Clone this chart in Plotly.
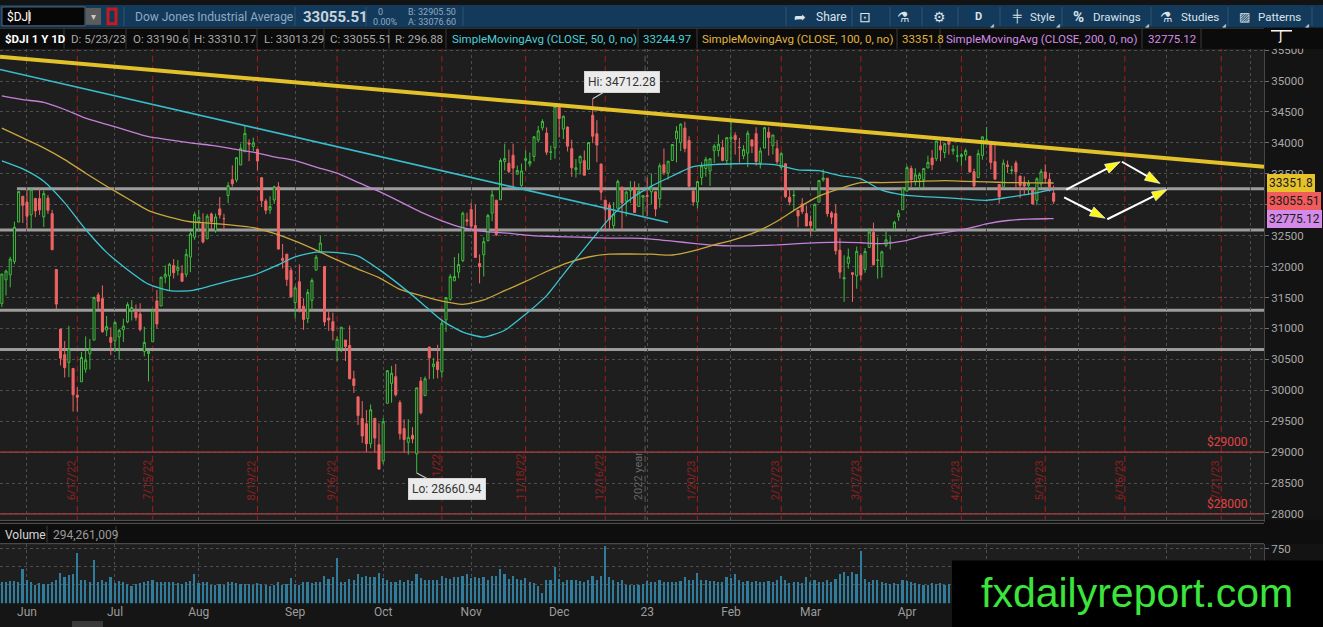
import pandas as pd
import plotly.graph_objects as go

W, H = 1323, 627
FONT = 'Roboto, "Open Sans", sans-serif'

# ---- data: $DJI daily bars 5/23/22 .. 5/23/23 (one value per trading day) ----
holidays = ['2022-05-30', '2022-06-20', '2022-07-04', '2022-09-05', '2022-11-24', '2022-12-26',
            '2023-01-02', '2023-01-16', '2023-02-20', '2023-04-07', '2023-05-29', '2023-06-19',
            '2023-07-04']

opens = [
    31401, 31786, 31865, 32082, 32720, 33137,
    33043, 32838, 33100, 33100, 32804, 33108, 32856, 31952, 30989, 30576, 30450, 30353, 29919,
    30137, 30340, 30589, 30810, 31541, 31481, 30972, 30856,
    30799, 30863, 30980, 31106, 31291, 31267, 31233, 30628, 30595, 30784, 31445, 31363, 31827, 31852,
    32017, 31938, 31889, 31874, 32154, 32475,
    32731, 32694, 32448, 32850, 32586, 32933, 32775, 33149, 33404, 33400, 33643, 33857, 33997, 33941,
    33897, 33438, 33061, 32914, 33077, 33291, 32134, 32201, 31941,
    31417, 31754, 31360, 31159, 31453, 31942, 32224, 32000, 31168, 31109, 30682, 30681, 30812, 30724,
    30184, 29893, 29544, 29459, 29137, 29546, 29120,
    28855, 29789, 30111, 30220, 29800, 29380, 29158, 29272, 28972, 30148, 29913, 30700, 30381, 30460,
    30299, 31138, 31470, 31769, 31910, 32098, 32756,
    32922, 32663, 32049, 32190, 32418, 32864, 33074, 33080, 33700, 33672, 33800, 33495, 33313, 33717,
    33658, 33780, 34047, 34245, 34159, 33849, 33917,
    34581, 34224, 34255, 33907, 33566, 33680, 33713, 33575, 34446, 34147, 33659, 33073, 32994, 32664,
    32942, 33285, 33059, 33225, 33264, 32972, 33121,
    33149, 33209, 33211, 33095, 33647, 33509, 33716, 34065, 34004, 34240, 34040, 33223, 33044, 33439,
    33586, 33544, 33874, 33876, 33924, 33716,
    34065, 34121, 33929, 33792, 33834, 34047, 34149, 33675, 33917, 34172, 33953, 33907, 33602, 33663,
    33122, 33145, 32910, 33013, 32856,
    32727, 32577, 33041, 33404, 33429, 32868, 32856, 32266, 31801, 32053, 31900, 31851, 32180, 31954,
    32309, 32555, 32097, 32001, 32343, 32385, 32608, 32804, 32920,
    33221, 33585, 33379, 33419, 33406, 33594, 33756, 33745, 33952, 33844, 34082, 33869, 33786, 33780,
    33805, 33784, 33535, 33440, 33797,
    34042, 33990, 33697, 33328, 33287, 33643, 33552, 33675, 33464, 33365, 33312, 33248, 33073, 33335,
    33529, 33411, 33190.6,
]
highs = [
    31880, 31949, 32159, 32726, 33213, 33137,
    33245, 33248, 33112, 33272, 33230, 33158, 32919, 31952, 30989, 30796, 31042, 30353, 30047,
    30620, 30870, 30829, 31514, 31580, 31695, 31202, 31017,
    31115, 30994, 31156, 31422, 31457, 31386, 31407, 31027, 30644, 31316, 31621, 31838, 32019, 32060,
    32122, 32108, 32022, 32284, 32575, 32886,
    32919, 32861, 32850, 32875, 32857, 33125, 32853, 33365, 33636, 33762, 33990, 34281, 34058, 34086,
    33897, 33438, 33096, 33136, 33307, 33365, 32367, 32204, 31989,
    31692, 32035, 31487, 31634, 31811, 32187, 32505, 32010, 31304, 31255, 30869, 31022, 30812, 31047,
    30315, 29893, 29825, 29679, 29770, 29546, 29466,
    29552, 30317, 30395, 30425, 29839, 29531, 29531, 29403, 30039, 30214, 30223, 30700, 30524, 30735,
    31119, 31503, 31878, 32155, 32214, 32889, 32871,
    33038, 32997, 32198, 32475, 32851, 33257, 33074, 33751, 33987, 33892, 33988, 33634, 33665, 33879,
    33844, 34112, 34275, 34381, 34250, 33955, 34590,
    34595, 34444, 34270, 34051, 33739, 33799, 33877, 34010, 34712.28, 34367, 33659, 33073, 33037, 33045,
    33407, 33285, 33226, 33384, 33379, 33344, 33148,
    33439, 33506, 33211, 33671, 33910, 33704, 33977, 34270, 34317, 34342, 34109, 33232, 33376, 33687,
    33775, 33745, 33978, 34135, 34049, 34086,
    34334, 34170, 34081, 33964, 34200, 34062, 34252, 33926, 34259, 34253, 34128, 34044, 33852, 33663,
    33240, 33252, 32910, 33106, 32985,
    32826, 33022, 33391, 33572, 33430, 32896, 33007, 32460, 32182, 32290, 31900, 32322, 32218, 32300,
    32621, 32710, 32475, 32259, 32600, 32492, 32740, 32916, 33275,
    33633, 33633, 33589, 33521, 33587, 33792, 33887, 34030, 34082, 33989, 34089, 33965, 33954, 33836,
    33909, 33784, 33583, 33890, 34104,
    34257, 33990, 34000, 33328, 33731, 33714, 33630, 33714, 33464, 33457, 33398, 33269, 33444, 33579,
    33652, 33515, 33310.17,
]
lows = [
    31347, 31532, 31665, 32038, 32720, 32705,
    32603, 32612, 32799, 32836, 32639, 32853, 32271, 31307, 30401, 30206, 30212, 29654, 29653,
    30137, 30283, 30336, 30810, 31303, 30930, 30874, 30568,
    30620, 30493, 30781, 31084, 31128, 31125, 30951, 30548, 30143, 30784, 30997, 31363, 31730, 31605,
    31806, 31856, 31757, 31828, 31909, 32433,
    32561, 32373, 32448, 32581, 32547, 32775, 32596, 33023, 33290, 33362, 33643, 33857, 33704, 33868,
    33554, 32962, 32848, 32853, 33015, 32275, 31970, 31685, 31494,
    31158, 31259, 30978, 31086, 31295, 31942, 32224, 31039, 30961, 30807, 30467, 30616, 30473, 30183,
    29957, 29439, 29148, 29002, 29062, 28994, 28715,
    28805, 29789, 29799, 29900, 29202, 28991, 28958, 29142, 28660.94, 29607, 29913, 30179, 30184, 30193,
    30209, 30944, 31444, 31769, 31813, 32070, 32653,
    32572, 32143, 31728, 31839, 32407, 32734, 32492, 33080, 33555, 33511, 33274, 33483, 33281, 33552,
    33615, 33703, 34006, 34200, 33804, 33723, 33745,
    34088, 34063, 33862, 33451, 33440, 33488, 33475, 33571, 33995, 33688, 33071, 32573, 32603, 32581,
    32942, 32573, 32813, 33029, 32870, 32972, 32810,
    32812, 33005, 32812, 32953, 33480, 33406, 33716, 33685, 33867, 33848, 33296, 32982, 32941, 33318,
    33454, 33303, 33670, 33780, 33701, 33645,
    33582, 33810, 33679, 33736, 33607, 33836, 33632, 33585, 33917, 33795, 33813, 33655, 33559, 33108,
    32993, 32904, 32636, 32851, 32651,
    32500, 32577, 33041, 33373, 32807, 32686, 32193, 31807, 31429, 31966, 31430, 31641, 31778, 31900,
    32309, 32019, 31805, 31820, 32314, 32276, 32584, 32739, 32920,
    33220, 33281, 33306, 33236, 33271, 33594, 33558, 33705, 33701, 33753, 33812, 33810, 33694, 33630,
    33717, 33516, 33271, 33440, 33728,
    33991, 33570, 33410, 33018, 33287, 33513, 33492, 33251, 33107, 33154, 33156, 33010, 32991, 33281,
    33336, 33210, 33013.29,
]
closes = [
    31880, 31928, 32120, 32637, 33213, 32990,
    32813, 33248, 32900, 32916, 33180, 32910, 32272, 31393, 30517, 30365, 30668, 29927, 29888,
    30530, 30484, 30677, 31501, 31438, 30947, 31029, 30775,
    31097, 30968, 31037, 31385, 31338, 31173, 30982, 30773, 30630, 31288, 31073, 31828, 31875, 32036,
    31900, 31990, 31762, 32198, 32530, 32845,
    32798, 32397, 32813, 32726, 32803, 32833, 32775, 33310, 33337, 33761, 33913, 34153, 33981, 33999,
    33707, 33064, 32910, 32970, 33292, 32283, 32099, 31791, 31510,
    31656, 31318, 31145, 31581, 31775, 32152, 32381, 31105, 31135, 30962, 30822, 31020, 30706, 30184,
    30077, 29590, 29260, 29135, 29684, 29226, 28726,
    29491, 30317, 30274, 29927, 29297, 29203, 29239, 29211, 30039, 29635, 30186, 30524, 30424, 30334,
    31083, 31500, 31837, 31839, 32034, 32862, 32733,
    32653, 32148, 31999, 32403, 32827, 33161, 32514, 33716, 33748, 33537, 33593, 33554, 33546, 33746,
    33700, 34098, 34195, 34347, 33850, 33853, 34590,
    34395, 34430, 33947, 33597, 33598, 33781, 33477, 34005, 34108, 33966, 33202, 32920, 32757, 32850,
    33377, 33027, 33204, 33241, 32876, 33221, 33147,
    33136, 33270, 32930, 33631, 33518, 33704, 33974, 34190, 34303, 33910, 33297, 33045, 33375, 33630,
    33734, 33744, 33950, 33978, 33717, 34086,
    34093, 34054, 33926, 33891, 34156, 33949, 33699, 33869, 34246, 34089, 34128, 33697, 33827, 33130,
    33045, 33154, 32817, 32889, 32657,
    32662, 33004, 33391, 33432, 32856, 32798, 32255, 31910, 31820, 32155, 31875, 32247, 31862, 32245,
    32560, 32030, 32106, 32238, 32433, 32394, 32718, 32860, 33274,
    33601, 33403, 33483, 33486, 33587, 33685, 33647, 34030, 33887, 33988, 33977, 33897, 33787, 33809,
    33876, 33531, 33302, 33826, 34098,
    34051, 33684, 33414, 33128, 33674, 33619, 33562, 33531, 33310, 33301, 33349, 33012, 33420, 33535,
    33427, 33286, 33055.51,
]
# volume in millions of shares
volumes = [
    300, 290, 310, 305, 290, 480,
    330, 290, 260, 280, 275, 265, 290, 330, 420, 360, 390, 400, 690,
    330, 320, 300, 600, 300, 320, 300, 370,
    280, 310, 300, 270, 240, 270, 280, 300, 310, 330, 290, 300, 290, 300, 290, 280, 270, 300, 310, 400,
    280, 300, 290, 260, 250, 270, 260, 290, 300, 280, 270, 270, 270, 260, 280, 270, 250, 240, 250, 290,
    260, 270, 350,
    270, 260, 290, 300, 280, 300, 290, 380, 340, 360, 620, 300, 290, 340, 330, 400, 370, 380, 360, 370, 420,
    350, 330, 300, 300, 320, 300, 330, 310, 400, 350, 330, 320, 330, 330, 380, 350, 340, 360, 370, 380, 400,
    350, 360, 350, 360, 330, 380, 380, 470, 410, 340, 380, 340, 330, 350, 290, 280, 240, 150, 330, 320, 500,
    340, 300, 330, 330, 320, 310, 290, 320, 380, 330, 380, 790, 360, 320, 300, 330, 250, 260, 250, 260, 270,
    310, 300, 290, 320, 300, 300, 290, 300, 310, 360, 330, 330, 420, 320, 320, 310, 310, 300, 300, 360,
    350, 400, 330, 290, 310, 290, 310, 290, 300, 310, 300, 320, 380, 320, 280, 290, 290, 280, 360,
    300, 320, 300, 290, 320, 300, 340, 410, 440, 380, 430, 400, 720, 340, 300, 330, 320, 300, 280, 270,
    280, 270, 330,
    310, 290, 280, 270, 250, 260, 280, 270, 280, 260, 270, 250, 270, 290, 260, 290, 280, 290, 310,
    280, 300, 300, 290, 270, 260, 250, 270, 260, 250, 250, 270, 280, 300, 330, 270, 294.261009,
]

# moving averages every 5th bar (plus the last bar)
sma_step = 5
sma50 = [33711, 33580, 33380, 33030, 32600, 32230, 31950, 31715, 31610, 31610,
         31690, 31780, 31860, 32000, 32155, 32235, 32225, 32170, 31955, 31700,
         31420, 31130, 30940, 30860, 30970, 31230, 31530, 31960, 32370, 32780,
         33090, 33300, 33465, 33615, 33650, 33663, 33663, 33640, 33565, 33550,
         33471, 33420, 33235, 33160, 33130, 33115, 33090, 33072, 33118, 33170,
         33235, 33244.97]
sma100 = [34240, 34080, 33920, 33730, 33510, 33300, 33100, 32905, 32800, 32725,
          32700, 32670, 32630, 32535, 32410, 32265, 32107, 31960, 31820, 31630,
          31530, 31440, 31390, 31460, 31610, 31760, 31920, 32060, 32155, 32200,
          32203, 32200, 32187, 32255, 32350, 32440, 32560, 32733, 32950, 33140,
          33262, 33358, 33358, 33365, 33380, 33390, 33378, 33370, 33358, 33355,
          33352, 33351.8]
sma200 = [34760, 34700, 34655, 34540, 34400, 34300, 34200, 34100, 34050, 34000,
          33960, 33905, 33850, 33775, 33715, 33610, 33510, 33360, 33215, 33050,
          32880, 32740, 32630, 32570, 32545, 32510, 32490, 32480, 32470, 32460,
          32460, 32445, 32412, 32375, 32345, 32335, 32340, 32350, 32370, 32388,
          32396, 32385, 32370, 32410, 32495, 32550, 32610, 32690, 32745, 32768,
          32774, 32775.12]

expirations = ['2022-06-17', '2022-07-15', '2022-08-19', '2022-09-16', '2022-10-21', '2022-11-18',
               '2022-12-16', '2023-01-20', '2023-02-17', '2023-03-17', '2023-04-21', '2023-05-19',
               '2023-06-16', '2023-07-21']
support_levels = [33257, 32593, 31294, 30658]
alert_levels = [29000, 28000]
price_ticks = list(range(28000, 36000, 500))

# hand drawn studies, (bar, price) anchors
trend_yellow = [(-0.44, 35395), (301.2, 33615)]
trend_cyan = [(-0.44, 35187), (159.0, 32712)]
arrows = [((254.0, 33246), (266.9, 33695)),
          ((267.3, 33695), (276.4, 33344)),
          ((253.5, 33118), (263.3, 32781)),
          ((263.8, 32765), (278.1, 33246))]

n = len(closes)
assert len(opens) == n and len(highs) == n and len(lows) == n and len(volumes) == n, (len(opens), len(highs), len(lows), len(closes), len(volumes))

days = pd.bdate_range('2022-05-23', '2023-08-31', freq='C', holidays=holidays)
pos = {d.strftime('%Y-%m-%d'): i for i, d in enumerate(days)}
bars = list(range(n))
sma_x = list(range(0, n - 1, sma_step)) + [n - 1]
assert len(sma50) == len(sma100) == len(sma200) == len(sma_x), (len(sma50), len(sma_x))

X_LO, X_HI = -0.44, 301.2
month_pos, month_txt = [], []
for i in range(1, len(days)):
    if days[i].month != days[i - 1].month and i < X_HI:
        month_pos.append(i)
        # labels from May 2023 on sit under the watermark box
        month_txt.append('' if i > 225 else (days[i].strftime('%y') if days[i].month == 1 else days[i].strftime('%b')))

GRID = '#4e4e4e'

fig = go.Figure()

fig.add_trace(go.Bar(x=bars, y=volumes, width=0.4, marker=dict(color='#2f7c9c', line_width=0),
                     xaxis='x2', yaxis='y2', hoverinfo='skip'))

fig.add_trace(go.Candlestick(
    x=bars, open=opens, high=highs, low=lows, close=closes,
    increasing=dict(line=dict(color='#3ebd3e', width=1), fillcolor='#1e1e1e'),
    decreasing=dict(line=dict(color='#ef6464', width=1), fillcolor='#ef6464'),
    whiskerwidth=0, hoverinfo='skip'))

for vals, color in [(sma200, '#c680da'), (sma100, '#c9a63e'), (sma50, '#3cc4d0')]:
    fig.add_trace(go.Scatter(x=sma_x, y=vals, mode='lines', hoverinfo='skip',
                             line=dict(color=color, width=1.3, shape='spline', smoothing=0.6)))

for pts, color, width in [(trend_cyan, '#38bccb', 1.6), (trend_yellow, '#e3c12a', 4)]:
    fig.add_trace(go.Scatter(x=[p[0] for p in pts], y=[p[1] for p in pts], mode='lines',
                             line=dict(color=color, width=width), hoverinfo='skip'))

for (a, b) in arrows:
    fig.add_trace(go.Scatter(
        x=[a[0], b[0]], y=[a[1], b[1]], mode='lines+markers', hoverinfo='skip',
        line=dict(color='white', width=2),
        marker=dict(symbol=['circle', 'arrow'], size=[0, 16], color='#fbf51a', opacity=1,
                    angleref='previous', line=dict(color='#ffffff', width=0.6))))


def px(x):
    return x / W


def py(y):
    return 1 - y / H


shapes = []


def rect(x0, y0, x1, y1, fill, line=None, layer='above', lw=1):
    shapes.append(dict(type='rect', xref='paper', yref='paper', x0=px(x0), x1=px(x1), y0=py(y1), y1=py(y0),
                       fillcolor=fill, line=dict(color=line or fill, width=lw if line else 0), layer=layer))


def pline(x0, y0, x1, y1, color, width=1, layer='above'):
    shapes.append(dict(type='line', xref='paper', yref='paper', x0=px(x0), x1=px(x1), y0=py(y0), y1=py(y1),
                       line=dict(color=color, width=width), layer=layer))


annots = []


def text(x, y, s, color, size=12, anchor='left', family=FONT, **kw):
    annots.append(dict(xref='paper', yref='paper', x=px(x), y=py(y), text=s, showarrow=False,
                       xanchor=anchor, yanchor='middle', font=dict(color=color, size=size, family=family), **kw))


# support / resistance lines
for i, lvl in enumerate(support_levels):
    shapes.append(dict(type='line', xref='x', yref='y', x0=3.6 if i == 0 else X_LO, x1=X_HI, y0=lvl, y1=lvl,
                       line=dict(color='#9c9c9c', width=3), layer='below'))
for lvl in alert_levels:
    shapes.append(dict(type='line', xref='x', yref='y', x0=X_LO, x1=X_HI, y0=lvl, y1=lvl,
                       line=dict(color='#d83a3a', width=1.3), layer='below'))
    annots.append(dict(xref='paper', yref='y', x=px(1250), y=lvl, yshift=10, text='$%d' % lvl,
                       showarrow=False, xanchor='right', font=dict(color='#e04444', size=12, family=FONT)))

# option expiration markers
for d in expirations:
    xi = pos[d]
    shapes.append(dict(type='line', xref='x', yref='y domain', x0=xi, x1=xi, y0=0, y1=1,
                       line=dict(color='#a01c1c', width=1, dash='6px,4px'), layer='below'))
    t = pd.Timestamp(d)
    annots.append(dict(xref='x', yref='y', x=xi, y=28192, xshift=-6, text='%d/%d/%s' % (t.month, t.day, t.strftime('%y')),
                       textangle=-90, showarrow=False, xanchor='center', yanchor='bottom',
                       font=dict(color='#8e2020', size=11, family=FONT)))
year_x = pos['2023-01-03'] - 0.5
shapes.append(dict(type='line', xref='x', yref='y domain', x0=year_x, x1=year_x, y0=0, y1=1,
                   line=dict(color='#5c5c5c', width=1, dash='6px,4px'), layer='below'))
annots.append(dict(xref='x', yref='y', x=year_x, y=28192, xshift=-7, text='2022 year', textangle=-90,
                   showarrow=False, xanchor='center', yanchor='bottom', font=dict(color='#666666', size=11, family=FONT)))

# hi / lo callouts
hi_i = highs.index(max(highs))
lo_i = lows.index(min(lows))
annots.append(dict(xref='x', yref='y', x=hi_i, y=highs[hi_i], ax=29, ay=-17, text='Hi: %.2f' % highs[hi_i],
                   showarrow=True, arrowhead=0, arrowwidth=1.2, arrowcolor='#c8c8c8', bgcolor='#ebebeb',
                   bordercolor='#d4d4d4', borderpad=3, font=dict(color='#333333', size=12, family=FONT)))
annots.append(dict(xref='x', yref='y', x=lo_i, y=lows[lo_i], ax=30, ay=16, text='Lo: %.2f' % lows[lo_i],
                   showarrow=True, arrowhead=0, arrowwidth=1.2, arrowcolor='#c8c8c8', bgcolor='#ebebeb',
                   bordercolor='#d4d4d4', borderpad=3, font=dict(color='#333333', size=12, family=FONT)))

# last values on the price axis
for val, label, bg in [(sma100[-1], '33351.8', '#e6c22a'), (closes[-1], '%.2f' % closes[-1], '#f05c5c'),
                       (sma200[-1], '%.2f' % sma200[-1], '#d48ae8')]:
    annots.append(dict(xref='paper', yref='y', x=px(1267), y=val, text=label,
                       showarrow=False, xanchor='left', bgcolor=bg, bordercolor=bg, borderpad=1,
                       font=dict(color='#1a1a1a', size=12, family=FONT)))

# panel separators / volume header
rect(0, 519, 1323, 543, '#0e0e0e', layer='below')
pline(0, 519.5, 1264, 519.5, '#5a5a5a')
pline(0, 522.5, 1264, 522.5, '#5a5a5a')
pline(0, 543, 1264, 543, '#555555')
pline(47, 525, 47, 542, '#3c3c3c')
pline(116, 525, 116, 542, '#3c3c3c')
text(3, 534, 'Volume', '#d6d6d6', 12)
text(51, 534, '{:,}'.format(int(round(volumes[-1] * 1e6))), '#9a9a9a', 12)
rect(0, 603, 1323, 627, '#151515', layer='below')
rect(72, 621, 103, 627, '#3a3a3a')

# top toolbar
rect(0, 0, 1323, 23, '#143a5b')
rect(2, 2, 85, 21, '#060606', line='#50667a')
text(5, 12, '$DJI', '#ffffff', 12)
pline(29, 5, 29, 19, '#ffffff', 1)
rect(86, 3, 101, 20, '#5c5c5c')
text(93.5, 12, '▾', '#c8c8c8', 10, anchor='center')
rect(108, 4, 116, 19, 'rgba(0,0,0,0)', line='#c41c1c', lw=3)
for sx in [124, 295, 366, 463, 786, 852, 890, 922, 958, 1000, 1062, 1151, 1228, 1312]:
    pline(sx, 2, sx, 21, '#2b5476')
text(133, 12, 'Dow Jones Industrial Average', '#8fa9c1', 12)
text(301, 12, '<b>%.2f</b>' % closes[-1], '#c8d4df', 15)
text(376, 7, '0', '#8fa9c1', 9)
text(371, 17, '0.00%', '#8fa9c1', 9)
text(406, 7, 'B: 32905.50', '#8fa9c1', 9)
text(406, 17, 'A: 33076.60', '#8fa9c1', 9)
TB = '#dbe3ea'
text(800, 12, '➦', TB, 14, anchor='center')
text(814, 12, 'Share', TB, 12)
text(865, 12, '⊡', TB, 14, anchor='center')
text(903, 12, '⚗', TB, 14, anchor='center')
text(939, 12, '⚙', TB, 14, anchor='center')
text(978, 12, '<b>D</b>', TB, 11, anchor='center')
text(1017, 12, '╪', TB, 12, anchor='center')
text(1028, 12, 'Style', TB, 11.5)
text(1078, 12, '<b>%</b>', TB, 15, anchor='center')
text(1091, 12, 'Drawings', TB, 11.5)
text(1166, 12, '⚗', TB, 14, anchor='center')
text(1179, 12, 'Studies', TB, 11.5)
text(1244, 12, '▨', TB, 12, anchor='center')
text(1256, 12, 'Patterns', TB, 11.5)
for tx in [992, 1058, 1147, 1224, 1307]:
    text(tx, 20, '◢', '#b8c4cf', 5, anchor='center')

# info bar
rect(0, 23, 1323, 44, '#0b0b0b')
pline(0, 23.5, 1264, 23.5, '#3a3a3a')
for sx in [64, 126, 189, 257, 324, 389, 446, 638, 697, 897, 940, 1142, 1201]:
    pline(sx, 24, sx, 44, '#3a3a3a')
GR = '#a9a9a9'
info = [(3, '<b>$DJI 1 Y 1D</b>', '#ffffff'), (69, 'D: 5/23/23', GR), (131, 'O: %.1f' % opens[-1], GR),
        (192, 'H: %.2f' % highs[-1], GR), (262, 'L: %.2f' % lows[-1], GR), (328, 'C: %.2f' % closes[-1], GR),
        (393, 'R: %.2f' % (highs[-1] - lows[-1]), GR),
        (450, 'SimpleMovingAvg (CLOSE, 50, 0, no)', '#4ccfd8'), (641, '%.2f' % sma50[-1], '#4ccfd8'),
        (700, 'SimpleMovingAvg (CLOSE, 100, 0, no)', '#e2b43e'), (900, '33351.8', '#e2b43e'),
        (944, 'SimpleMovingAvg (CLOSE, 200, 0, no)', '#d58ce8'), (1146, '%.2f' % sma200[-1], '#d58ce8')]
for x, s, c in info:
    text(x, 34, s, c, 11.5)
text(1281, 31, '∫', '#ffffff', 13, anchor='center')
pline(1271, 26, 1292, 26, '#ffffff', 1.5)

# watermark
rect(952, 560, 1323, 627, '#000000')
text(1137, 593, 'fxdailyreport.com', '#3be53b', 41, anchor='center', family='"Liberation Sans", Arial, sans-serif')

fig.update_layout(
    width=W, height=H, margin=dict(l=0, r=0, t=0, b=0),
    paper_bgcolor='#131313', plot_bgcolor='#1e1e1e', showlegend=False,
    xaxis=dict(domain=[0, 1264 / W], range=[X_LO, X_HI], anchor='y', tickvals=month_pos, showticklabels=False,
               showgrid=True, gridcolor=GRID, griddash='dot', zeroline=False, showline=False,
               rangeslider=dict(visible=False), fixedrange=True),
    yaxis=dict(domain=[py(521), py(44)], range=[27872, 35524], anchor='x', side='right',
               tickvals=price_ticks, ticktext=[str(v) for v in price_ticks], showgrid=True, gridcolor=GRID,
               griddash='dot', ticks='outside', ticklen=4, tickcolor='#6e6e6e', showline=True,
               linecolor='#464646', zeroline=False, tickfont=dict(color='#a8a8a8', size=11.5, family=FONT),
               fixedrange=True),
    xaxis2=dict(domain=[0, 1264 / W], range=[X_LO, X_HI], anchor='y2', tickvals=month_pos, ticktext=month_txt,
                showgrid=True, gridcolor=GRID, griddash='dot', zeroline=False, showline=False, ticks='',
                tickfont=dict(color='#9c9c9c', size=12, family=FONT), fixedrange=True),
    yaxis2=dict(domain=[py(603), py(543)], range=[0, 818], anchor='x2', side='right',
                tickvals=[250, 500, 750], ticktext=['', '', '750'], showgrid=True, gridcolor=GRID, griddash='dot',
                ticks='outside', ticklen=4, tickcolor='#6e6e6e', showline=True, linecolor='#464646',
                zeroline=False, tickfont=dict(color='#a8a8a8', size=11.5, family=FONT), fixedrange=True),
    shapes=shapes, annotations=annots, bargap=0,
)

fig.write_html("out.html", config={'displayModeBar': False},
               post_script="document.body.style.margin='0';document.body.style.background='#131313';")
